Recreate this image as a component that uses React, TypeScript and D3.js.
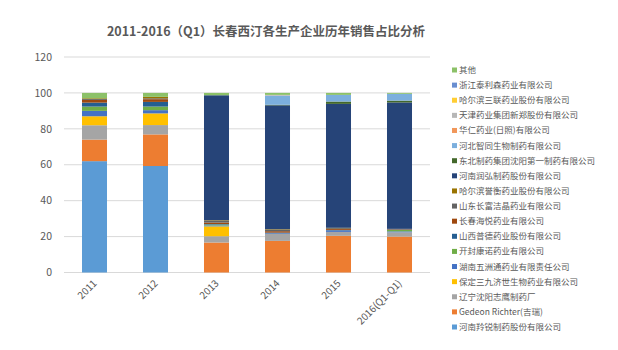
import * as d3 from 'd3';

const years = ['2011', '2012', '2013', '2014', '2015', '2016(Q1-Q1)'];

// stack order, bottom to top
const companies = [
  '河南羚锐制药股份有限公司',
  'Gedeon Richter(吉瑞)',
  '辽宁沈阳志鹰制药厂',
  '保定三九济世生物药业有限公司',
  '湖南五洲通药业有限责任公司',
  '开封康诺药业有限公司',
  '山西普德药业股份有限公司',
  '长春海悦药业有限公司',
  '山东长富洁晶药业有限公司',
  '哈尔滨誉衡药业股份有限公司',
  '河南润弘制药股份有限公司',
  '东北制药集团沈阳第一制药有限公司',
  '河北智同生物制药有限公司',
  '华仁药业(日照)有限公司',
  '天津药业集团新郑股份有限公司',
  '哈尔滨三联药业股份有限公司',
  '浙江泰利森药业有限公司',
  '其他',
];

const colors = [
  '#5B9BD5', '#ED7D31', '#A5A5A5', '#FFC000', '#4472C4', '#70AD47',
  '#255E91', '#9E480E', '#636363', '#997300', '#264478', '#43682B',
  '#7CAFDD', '#F1975A', '#B7B7B7', '#FFCD33', '#698ED0', '#8CC168',
];

// share (%) per company, one value per year
const shares: number[][] = [
  [62, 59.3, 0, 0, 0, 0],
  [12, 17.6, 16.7, 17.6, 20.4, 20],
  [8, 5.2, 3.5, 3.9, 2.2, 2.4],
  [5, 6.5, 5.5, 0, 0, 0],
  [3, 1.8, 0.5, 0.3, 0.8, 0.5],
  [2.4, 2, 0.5, 0, 0, 0.8],
  [2.2, 2.6, 0.3, 0.4, 0.3, 0.3],
  [1.5, 1.5, 0.8, 0.8, 0.5, 0.3],
  [0.5, 0.5, 1.0, 0.8, 0.5, 0],
  [0.4, 0.8, 0.3, 0.3, 0.2, 0],
  [0, 0, 69.6, 69, 69, 70.4],
  [0, 0, 0, 0.3, 1.3, 1.0],
  [0, 0, 0, 5, 3.7, 3.8],
  [0, 0, 0, 0, 0, 0],
  [0, 0, 0, 0.5, 0, 0],
  [0, 0, 0, 0, 0, 0],
  [0, 0, 0, 0, 0, 0],
  [3, 2.2, 1.3, 1.1, 1.1, 0.5],
];

const yTicks = [0, 20, 40, 60, 80, 100, 120];

const W = 618;
const H = 350;
const font = '"Noto Sans CJK SC", "Noto Sans", sans-serif';
const textColor = '#595959';

export default function App() {
  const x = d3.scaleBand().domain(years).range([64, 430]).paddingInner(0.59).paddingOuter(0.295);
  const y = d3.scaleLinear().domain([0, 120]).range([272.5, 57]);

  const rows = years.map((yr, j) => {
    const r: Record<string, number | string> = { year: yr };
    companies.forEach((c, i) => (r[c] = shares[i][j]));
    return r;
  });
  const stacked = d3.stack<Record<string, number | string>>().keys(companies)(rows as any);

  const legendY = d3.scalePoint().domain([...companies].reverse()).range([70, 327]);

  return (
    <svg width={W} height={H} style={{ position: 'absolute', left: 0, top: 0, background: '#fff' }}>
      <text x={266} y={36} textAnchor="middle" fontFamily={font} fontSize={12.5} fontWeight="bold" fill={textColor}>
        2011-2016（Q1）长春西汀各生产企业历年销售占比分析
      </text>
      {yTicks.map(t => (
        <g key={t}>
          <line x1={64} x2={430} y1={y(t)} y2={y(t)} stroke="#d9d9d9" strokeWidth={1} />
          <text x={52} y={y(t)} dy="0.35em" textAnchor="end" fontFamily={font} fontSize={10.5} fill={textColor}>
            {t}
          </text>
        </g>
      ))}
      {stacked.map((s, i) => (
        <g key={companies[i]} fill={colors[i]}>
          {s.map((d, j) =>
            d[1] - d[0] > 0 ? (
              <rect key={j} x={x(years[j])} width={x.bandwidth()} y={y(d[1])} height={y(d[0]) - y(d[1])} />
            ) : null
          )}
        </g>
      ))}
      {years.map(yr => {
        const cx = (x(yr) as number) + x.bandwidth() / 2 + 3;
        return (
          <text key={yr} transform={`translate(${cx},284) rotate(-45)`} textAnchor="end" fontFamily={font} fontSize={10} fill={textColor}>
            {yr}
          </text>
        );
      })}
      {companies.map((c, i) => (
        <g key={c} transform={`translate(452,${legendY(c)})`}>
          <rect x={0} y={-2.5} width={5} height={5} fill={colors[i]} />
          <text x={7} y={0} dy="0.35em" fontFamily={font} fontSize={8.5} fill={textColor}>
            {c}
          </text>
        </g>
      ))}
    </svg>
  );
}
